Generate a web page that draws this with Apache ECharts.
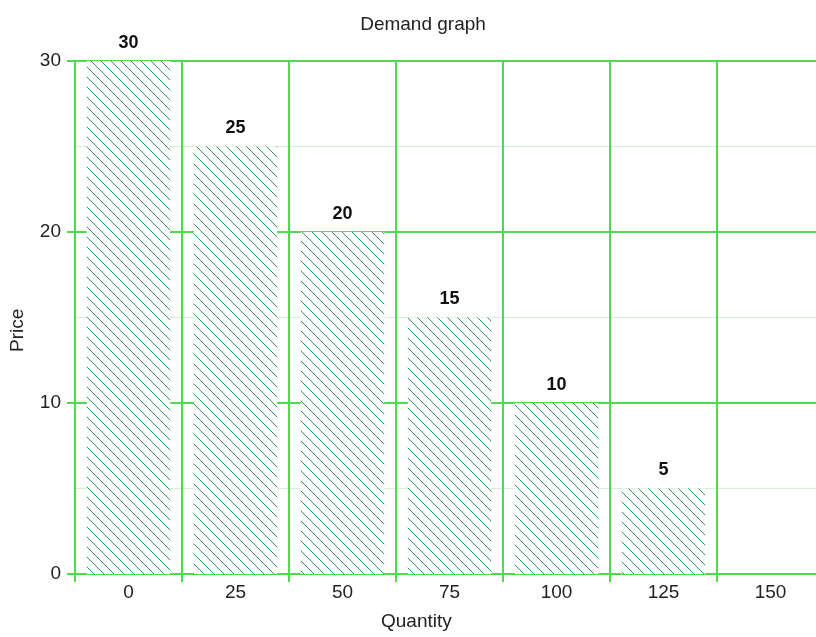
<!DOCTYPE html>
<html>
<head>
<meta charset="utf-8">
<script src="https://cdn.jsdelivr.net/npm/echarts@6/dist/echarts.min.js"></script>
<style>
  html, body { margin: 0; padding: 0; background: #fff; overflow: hidden; }
  /* the plot's last column runs past the right edge of the picture */
  #chart { width: 824px; height: 637px; }
</style>
</head>
<body>
<div id="chart"></div>
<script>
// data
const quantities = ['0', '25', '50', '75', '100', '125', '150'];
const prices = [30, 25, 20, 15, 10, 5, 0];
const priceTicks = [0, 10, 20, 30];

const FONT = '"Liberation Sans", Arial, sans-serif';
const GREEN = '#4ddb4d';
const HATCH = '#2f9460';

// diagonal hatch tile on white, so grid lines stay hidden behind bars
function makeHatch() {
    let c = document.createElement('canvas');
    c.width = 10;
    c.height = 10;
    let ctx = c.getContext('2d');
    ctx.fillStyle = '#fff';
    ctx.fillRect(0, 0, 10, 10);
    ctx.strokeStyle = HATCH;
    ctx.lineWidth = 1;
    ctx.beginPath();
    ctx.moveTo(-1, -1); ctx.lineTo(11, 11);
    ctx.moveTo(-1, 9); ctx.lineTo(1, 11);
    ctx.moveTo(9, -1); ctx.lineTo(11, 1);
    ctx.stroke();
    return c;
}

let myChart = echarts.init(document.getElementById('chart'));
myChart.setOption({
    backgroundColor: '#fff',
    animation: false,
    title: {
        text: 'Demand graph',
        left: 418,
        top: 10,
        textAlign: 'center',
        textStyle: { fontFamily: FONT, fontSize: 19, fontWeight: 'normal', color: '#222' }
    },
    graphic: [
        {
            type: 'text', left: 381, top: 612,
            style: { text: 'Quantity', font: '19px ' + FONT, fill: '#222' }
        },
        {
            type: 'text', x: 8, y: 352, rotation: Math.PI / 2,
            style: { text: 'Price', font: '19px ' + FONT, fill: '#222' }
        }
    ],
    grid: { left: 75, top: 61, right: 0, bottom: 63, containLabel: false },
    xAxis: {
        type: 'category',
        data: quantities,
        boundaryGap: true,
        axisLine: { lineStyle: { color: GREEN, width: 2 } },
        axisTick: { show: true, length: 8, interval: 0, lineStyle: { color: GREEN, width: 2 } },
        axisLabel: { margin: 9, fontFamily: FONT, fontSize: 19, color: '#222' },
        splitLine: { show: true, interval: 0, lineStyle: { color: GREEN, width: 2 } }
    },
    yAxis: {
        type: 'value',
        min: priceTicks[0],
        max: priceTicks[priceTicks.length - 1],
        interval: 10,
        axisLine: { show: true, lineStyle: { color: GREEN, width: 2 } },
        axisTick: { show: true, length: 8, lineStyle: { color: GREEN, width: 2 } },
        axisLabel: { margin: 14, fontFamily: FONT, fontSize: 19, color: '#222' },
        splitLine: { show: true, lineStyle: { color: GREEN, width: 2 } },
        minorTick: { show: false, splitNumber: 2 },
        minorSplitLine: { show: true, lineStyle: { color: '#d4efd4', width: 1 } }
    },
    series: [{
        type: 'bar',
        data: prices,
        barWidth: '78%',
        itemStyle: {
            color: { image: makeHatch(), repeat: 'repeat' }
        },
        label: {
            show: true,
            position: 'top',
            distance: 9,
            fontFamily: FONT,
            fontSize: 18,
            fontWeight: 'bold',
            color: '#111',
            formatter: p => (p.value ? p.value : '')
        }
    }]
});
</script>
</body>
</html>
